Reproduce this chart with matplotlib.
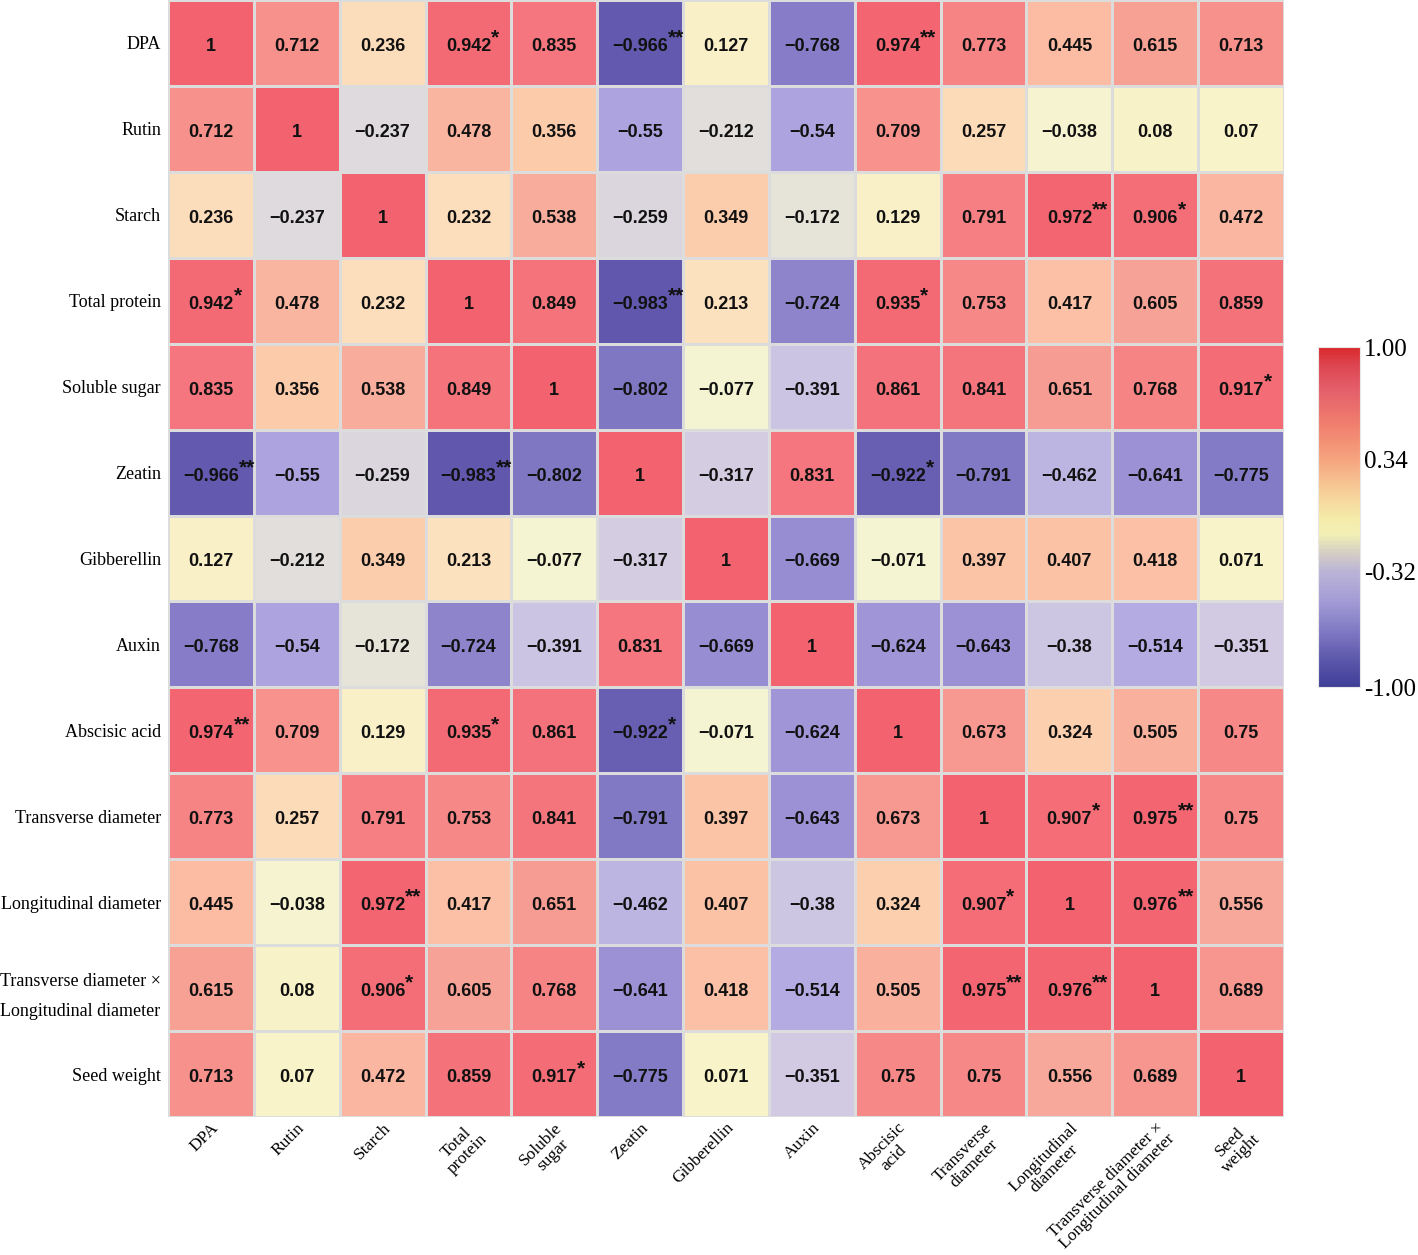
import numpy as np
import matplotlib
matplotlib.use("Agg")
import matplotlib.pyplot as plt
from matplotlib.colors import LinearSegmentedColormap, Normalize
from matplotlib.cm import ScalarMappable

row_labels = ["DPA", "Rutin", "Starch", "Total protein", "Soluble sugar", "Zeatin",
              "Gibberellin", "Auxin", "Abscisic acid", "Transverse diameter",
              "Longitudinal diameter", "Transverse diameter \u00d7\nLongitudinal diameter",
              "Seed weight"]
col_labels = ["DPA", "Rutin", "Starch", "Total\nprotein", "Soluble\nsugar", "Zeatin",
              "Gibberellin", "Auxin", "Abscisic\nacid", "Transverse\ndiameter",
              "Longitudinal\ndiameter", "Transverse diameter \u00d7\nLongitudinal diameter",
              "Seed\nweight"]

corr = np.array([
    [1, 0.712, 0.236, 0.942, 0.835, -0.966, 0.127, -0.768, 0.974, 0.773, 0.445, 0.615, 0.713],
    [0.712, 1, -0.237, 0.478, 0.356, -0.55, -0.212, -0.54, 0.709, 0.257, -0.038, 0.08, 0.07],
    [0.236, -0.237, 1, 0.232, 0.538, -0.259, 0.349, -0.172, 0.129, 0.791, 0.972, 0.906, 0.472],
    [0.942, 0.478, 0.232, 1, 0.849, -0.983, 0.213, -0.724, 0.935, 0.753, 0.417, 0.605, 0.859],
    [0.835, 0.356, 0.538, 0.849, 1, -0.802, -0.077, -0.391, 0.861, 0.841, 0.651, 0.768, 0.917],
    [-0.966, -0.55, -0.259, -0.983, -0.802, 1, -0.317, 0.831, -0.922, -0.791, -0.462, -0.641, -0.775],
    [0.127, -0.212, 0.349, 0.213, -0.077, -0.317, 1, -0.669, -0.071, 0.397, 0.407, 0.418, 0.071],
    [-0.768, -0.54, -0.172, -0.724, -0.391, 0.831, -0.669, 1, -0.624, -0.643, -0.38, -0.514, -0.351],
    [0.974, 0.709, 0.129, 0.935, 0.861, -0.922, -0.071, -0.624, 1, 0.673, 0.324, 0.505, 0.75],
    [0.773, 0.257, 0.791, 0.753, 0.841, -0.791, 0.397, -0.643, 0.673, 1, 0.907, 0.975, 0.75],
    [0.445, -0.038, 0.972, 0.417, 0.651, -0.462, 0.407, -0.38, 0.324, 0.907, 1, 0.976, 0.556],
    [0.615, 0.08, 0.906, 0.605, 0.768, -0.641, 0.418, -0.514, 0.505, 0.975, 0.976, 1, 0.689],
    [0.713, 0.07, 0.472, 0.859, 0.917, -0.775, 0.071, -0.351, 0.75, 0.75, 0.556, 0.689, 1],
])

# significance level: 1 -> *, 2 -> **
sig = np.zeros_like(corr, dtype=int)
sig_cells = [(0, 3, 1), (0, 5, 2), (0, 8, 2), (2, 10, 2), (2, 11, 1), (3, 0, 1), (3, 5, 2),
             (3, 8, 1), (4, 12, 1), (5, 0, 2), (5, 3, 2), (5, 8, 1), (8, 0, 2), (8, 3, 1),
             (8, 5, 1), (9, 10, 1), (9, 11, 2), (10, 2, 2), (10, 9, 1), (10, 11, 2),
             (11, 2, 1), (11, 9, 2), (11, 10, 2), (12, 4, 1)]
for r, c, s in sig_cells:
    sig[r, c] = s

cbar_ticks = [-1.0, -0.32, 0.34, 1.0]

# muted colormap for the cells
cell_anchors = [(-1.0, "#5F55AC"), (-0.9, "#6C62B5"), (-0.8, "#8178C4"), (-0.65, "#9A90D4"),
                (-0.54, "#AEA5E0"), (-0.39, "#CCC5E3"), (-0.3, "#D6CFE0"), (-0.22, "#E0DDDC"),
                (-0.07, "#F5F4D2"), (0.07, "#F8F3C8"), (0.13, "#FAF0C8"), (0.24, "#FCDDBB"),
                (0.36, "#FCCBAA"), (0.48, "#FAB5A0"), (0.56, "#F7A89A"), (0.69, "#F7978F"),
                (0.83, "#F5777E"), (1.0, "#F2626F")]
cell_cmap = LinearSegmentedColormap.from_list(
    "cells", [((v + 1) / 2, c) for v, c in cell_anchors])

bar_anchors = [(-1.0, "#3F3F98"), (-0.85, "#5A56AA"), (-0.7, "#7A74C0"), (-0.5, "#A29BD5"),
               (-0.32, "#BCB4D6"), (-0.2, "#D7D2C2"), (-0.1, "#F3F0B5"), (0.0, "#F5EAA8"),
               (0.15, "#F6CE98"), (0.34, "#F6A47E"), (0.55, "#F07E6E"), (0.75, "#E45F6A"),
               (0.9, "#DD4550"), (1.0, "#D9282B")]
bar_cmap = LinearSegmentedColormap.from_list(
    "bar", [((v + 1) / 2, c) for v, c in bar_anchors])

plt.rcParams["font.family"] = ["Liberation Serif", "DejaVu Serif"]

fig = plt.figure(figsize=(14.18, 12.55), dpi=100)
ax = fig.add_axes([168 / 1418, 1 - 1117 / 1255, 1116 / 1418, 1117 / 1255])

n = len(row_labels)
ax.pcolormesh(np.arange(n + 1), np.arange(n + 1), corr, cmap=cell_cmap, vmin=-1, vmax=1,
              edgecolor="#DCDCDC", linewidth=1.0)
ax.set_xlim(0, n)
ax.set_ylim(n, 0)

for i in range(n):
    for j in range(n):
        v = corr[i, j]
        s = f"{v:g}".replace("-", "\u2212")
        t = ax.text(j + 0.5, i + 0.54, s, ha="center", va="center", fontsize=13,
                    fontfamily="Liberation Sans", fontweight="bold", color="#111111")
        if sig[i, j]:
            ax.annotate("*" * sig[i, j], xy=(1.0, 1.0), xycoords=t, ha="left", va="center",
                        fontsize=15, fontfamily="Liberation Sans", fontweight="bold",
                        color="#111111")

ax.set_xticks(np.arange(n) + 0.5)
ax.set_yticks(np.arange(n) + 0.5)
ax.set_yticklabels(row_labels, fontsize=13, linespacing=2.0)
ax.set_xticklabels(col_labels, fontsize=12.5, rotation=45, ha="right", va="top",
                   rotation_mode="anchor", multialignment="center", linespacing=1.0)
ax.tick_params(axis="x", length=0, pad=2)
ax.tick_params(axis="y", length=0, pad=5)
for sp in ax.spines.values():
    sp.set_visible(False)

# the two-line row label is left aligned
ax.get_yticklabels()[11].set_multialignment("left")

cax = fig.add_axes([1318 / 1418, 1 - 687 / 1255, 42 / 1418, 340 / 1255])
cb = fig.colorbar(ScalarMappable(norm=Normalize(-1, 1), cmap=bar_cmap), cax=cax,
                  ticks=cbar_ticks)
cb.ax.set_yticklabels([f"{t:.2f}" for t in cbar_ticks], fontsize=18)
cb.ax.tick_params(length=0, pad=3)
cb.outline.set_edgecolor("#E8E8E8")

fig.savefig("out.png", dpi=100)
